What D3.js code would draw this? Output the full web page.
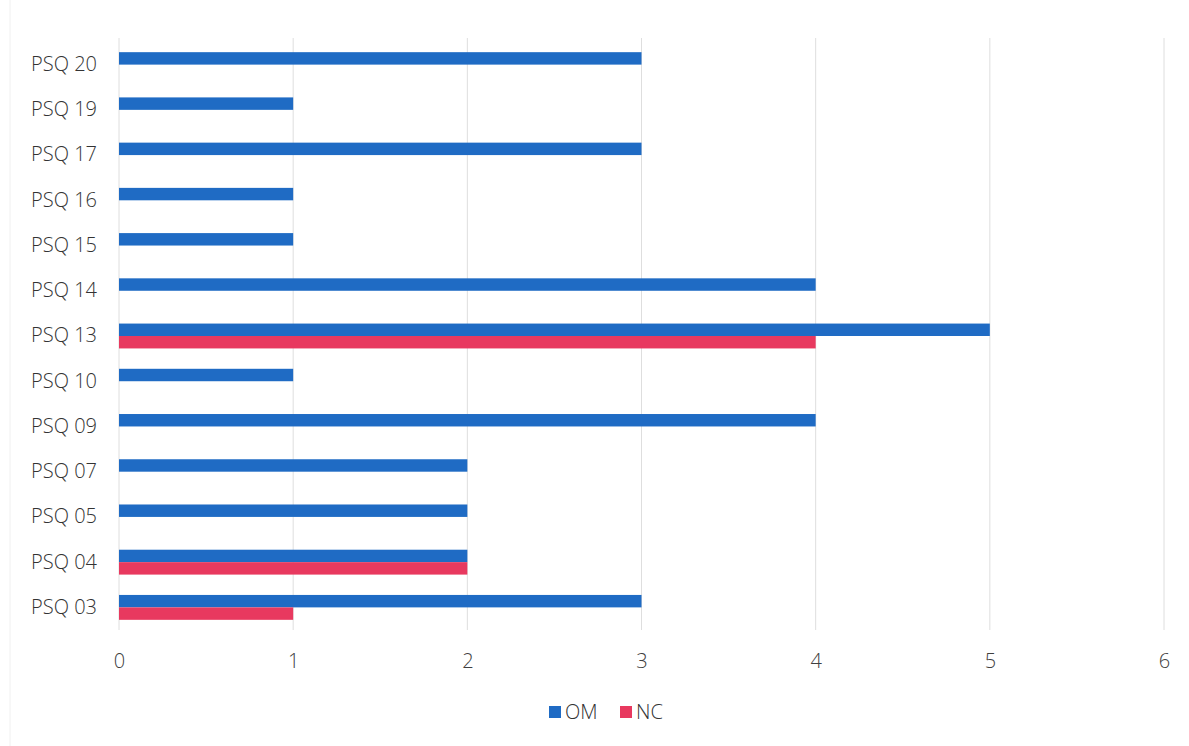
<!DOCTYPE html>
<html><head><meta charset="utf-8">
<script src="https://cdn.jsdelivr.net/npm/d3@7"></script>
<style>body{margin:0;background:#fff}svg{display:block}</style>
</head><body><svg id="c" width="1189" height="746"></svg>
<script>
const categories = ["PSQ 20","PSQ 19","PSQ 17","PSQ 16","PSQ 15","PSQ 14","PSQ 13","PSQ 10","PSQ 09","PSQ 07","PSQ 05","PSQ 04","PSQ 03"];
const omValues = [3,1,3,1,1,4,5,1,4,2,2,2,3];
const ncValues = [0,0,0,0,0,0,4,0,0,0,0,2,1];
const xTicks = [0,1,2,3,4,5,6];
const seriesNames = ["OM","NC"];
const colors = ["#1f6bc4","#e8395f"];

const svg = d3.select("#c");
const W = 1189, H = 746;
const m = {left:119, right:W-1164, top:42, bottom:H-630};
const x = d3.scaleLinear().domain([0,6]).range([m.left, W-m.right]);
const y = d3.scaleBand().domain(categories).range([m.top, H-m.bottom]).paddingInner(0.45).paddingOuter(0.225);
const sub = d3.scaleBand().domain(seriesNames).range([0, y.bandwidth()]);
const font = "'Open Sans', sans-serif";

svg.append("line").attr("x1",10).attr("x2",10).attr("y1",0).attr("y2",746).attr("stroke","#f0f0f0");

svg.append("g").selectAll("line").data(xTicks).join("line")
  .attr("x1",d=>x(d)).attr("x2",d=>x(d)).attr("y1",m.top-4).attr("y2",H-m.bottom)
  .attr("stroke","#dedede").attr("stroke-width",1);

const rows = categories.map((c,i)=>({c, vals:[omValues[i], ncValues[i]]}));
const g = svg.append("g");
rows.forEach(r=>{
  r.vals.forEach((v,j)=>{
    if(v<=0) return;
    g.append("rect").attr("x",x(0)).attr("y",y(r.c)+sub(seriesNames[j]))
      .attr("width",x(v)-x(0)).attr("height",sub.bandwidth()).attr("fill",colors[j]);
  });
});

const xa = d3.axisBottom(x).tickValues(xTicks).tickSize(0).tickPadding(0).tickFormat(d3.format("d"));
svg.append("g").attr("transform",`translate(0,${H-m.bottom+24})`).call(xa)
  .call(a=>a.select(".domain").remove())
  .selectAll("text").attr("font-family",font).attr("font-size",20).attr("font-weight",300).attr("fill","#404040");

const ya = d3.axisLeft(y).tickSize(0).tickPadding(22);
svg.append("g").attr("transform",`translate(${m.left},0)`).call(ya)
  .call(a=>a.select(".domain").remove())
  .selectAll("text").attr("font-family",font).attr("font-size",20).attr("font-weight",300).attr("fill","#333333");

const leg = svg.append("g").attr("transform","translate(549,712)");
seriesNames.forEach((s,i)=>{
  const gx = i*71;
  leg.append("rect").attr("x",gx).attr("y",-6).attr("width",12).attr("height",12).attr("fill",colors[i]);
  leg.append("text").attr("x",gx+16).attr("y",0).attr("dy","0.35em").text(s)
    .attr("font-family",font).attr("font-size",20).attr("font-weight",300).attr("fill","#333333");
});
</script></body></html>
